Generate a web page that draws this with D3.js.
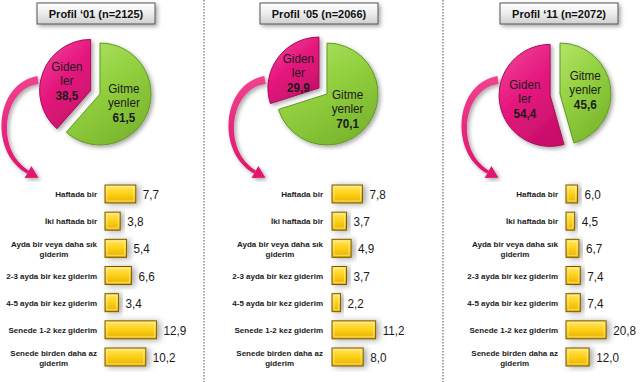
<!DOCTYPE html>
<html lang="tr">
<head>
<meta charset="UTF-8">
<title>Profil</title>
<script src="https://d3js.org/d3.v7.min.js"></script>
<style>
  body { margin: 0; background: #fff; }
  svg { font-family: "Liberation Sans", Arial, sans-serif; }
  .cat { font-size: 8px; font-weight: bold; fill: #1a1a1a; }
  .val { font-size: 13px; fill: #1a1a1a; }
  .pielbl { font-size: 13px; fill: #1a1a1a; }
  .title { font-size: 11px; font-weight: bold; fill: #111; }
</style>
</head>
<body>
<svg width="640" height="382"></svg>
<script>
// --- data ---
var profiles = ["Profil \u201801 (n=2125)", "Profil \u201805 (n=2066)", "Profil \u201811 (n=2072)"];
var gidenler = [38.5, 29.9, 54.4];
var gitmeyenler = [61.5, 70.1, 45.6];
var categories = [
    ["Haftada bir"],
    ["\u0130ki haftada bir"],
    ["Ayda bir veya daha s\u0131k", "giderim"],
    ["2-3 ayda bir kez giderim"],
    ["4-5 ayda bir kez giderim"],
    ["Senede 1-2 kez giderim"],
    ["Senede birden daha az", "giderim"]
];
var freq01 = [7.7, 3.8, 5.4, 6.6, 3.4, 12.9, 10.2];
var freq05 = [7.8, 3.7, 4.9, 3.7, 2.2, 11.2, 8.0];
var freq11 = [6.0, 4.5, 6.7, 7.4, 7.4, 20.8, 12.0];
var freqs = [freq01, freq05, freq11];

// layout per panel
var panels = [
    { titleCx: 96,  pieCx: 100, labelRight: 97,  barX0: 105, ppu: 4.0 },
    { titleCx: 319, pieCx: 327, labelRight: 323, barX0: 332, ppu: 3.9 },
    { titleCx: 559, pieCx: 560, labelRight: 558, barX0: 566, ppu: 1.93 }
];
var separators = [204, 443];
var pieCy = 94, radius = 51, explode = 10;
var squeeze = 0.9;

var svg = d3.select("svg");
var defs = svg.append("defs");

function shadow(id, dx, dy, sd, op) {
    var f = defs.append("filter").attr("id", id)
        .attr("x", "-30%").attr("y", "-30%").attr("width", "160%").attr("height", "160%");
    f.append("feDropShadow").attr("dx", dx).attr("dy", dy)
        .attr("stdDeviation", sd).attr("flood-color", "#000").attr("flood-opacity", op);
}
shadow("shd", 2, 2, 2, 0.35);
shadow("barshd", 3, 1, 3, 0.35);

function grad(id, stops, x2, y2) {
    var g = defs.append("linearGradient").attr("id", id)
        .attr("x1", 0).attr("y1", 0).attr("x2", x2).attr("y2", y2);
    stops.forEach(function(s) {
        g.append("stop").attr("offset", s[0]).attr("stop-color", s[1]);
    });
}
grad("pinkG", [[0, "#f24a9c"], [0.5, "#e6197f"], [1, "#c90f6a"]], 0.6, 1);
grad("greenG", [[0, "#b4e469"], [0.5, "#93d140"], [1, "#7bb72e"]], 0.6, 1);
grad("barG", [[0, "#ffe66b"], [0.45, "#ffd21a"], [1, "#e6b000"]], 0, 1);
grad("titleG", [[0, "#ffffff"], [0.5, "#ececec"], [1, "#cfcfcf"]], 0, 1);
grad("arrowG", [[0, "#f0428f"], [1, "#e0156f"]], 0, 1);

// separators
svg.selectAll(".sep").data(separators).enter().append("line")
    .attr("x1", function(d) { return d; }).attr("x2", function(d) { return d; })
    .attr("y1", 0).attr("y2", 382)
    .attr("stroke", "#8a8a8a").attr("stroke-width", 1.5)
    .attr("stroke-dasharray", "1.5,1.5");

var fmt = function(v) { return d3.format(".1f")(v).replace(".", ","); };

var y = d3.scalePoint().domain(d3.range(categories.length)).range([194, 357]);

var pie = d3.pie().sort(null).value(function(d) { return d.v; });
var arc = d3.arc().innerRadius(0).outerRadius(radius);

function sqText(g, x, y, txt, cls, weight) {
    return g.append("text").attr("class", cls)
        .attr("transform", "translate(" + x + "," + y + ") scale(" + squeeze + ",1)")
        .attr("text-anchor", "middle")
        .style("font-weight", weight || null)
        .text(txt);
}

// tapered curved arrow
function bez(p, t) {
    var u = 1 - t;
    return [
        u*u*u*p[0][0] + 3*u*u*t*p[1][0] + 3*u*t*t*p[2][0] + t*t*t*p[3][0],
        u*u*u*p[0][1] + 3*u*u*t*p[1][1] + 3*u*t*t*p[2][1] + t*t*t*p[3][1]
    ];
}
function bezD(p, t) {
    var u = 1 - t;
    return [
        3*u*u*(p[1][0]-p[0][0]) + 6*u*t*(p[2][0]-p[1][0]) + 3*t*t*(p[3][0]-p[2][0]),
        3*u*u*(p[1][1]-p[0][1]) + 6*u*t*(p[2][1]-p[1][1]) + 3*t*t*(p[3][1]-p[2][1])
    ];
}
function drawArrow(g, cx, cy) {
    var p = [[cx - 62, cy - 14], [cx - 102, cy - 8], [cx - 108, cy + 58], [cx - 72, cy + 78]];
    var left = [], right = [];
    var n = 40;
    for (var i = 0; i <= n; i++) {
        var t = i / n, b = bez(p, t), d = bezD(p, t);
        var len = Math.hypot(d[0], d[1]);
        var nx = -d[1] / len, ny = d[0] / len;
        var w = (8 - 4.5 * t) / 2;
        left.push([b[0] + nx * w, b[1] + ny * w]);
        right.push([b[0] - nx * w, b[1] - ny * w]);
    }
    var pts = left.concat(right.reverse());
    g.append("path").attr("d", d3.line()(pts) + "Z")
        .attr("fill", "url(#arrowG)").attr("filter", "url(#shd)");
    var e = bez(p, 1), d = bezD(p, 1), len = Math.hypot(d[0], d[1]);
    var ux = d[0] / len, uy = d[1] / len, nx = -uy, ny = ux;
    var head = [
        [e[0] + nx * 7, e[1] + ny * 7],
        [e[0] + ux * 12, e[1] + uy * 12],
        [e[0] - nx * 7, e[1] - ny * 7]
    ];
    g.append("path").attr("d", d3.line()(head) + "Z")
        .attr("fill", "#e0156f").attr("filter", "url(#shd)");
}

panels.forEach(function(pn, i) {
    var g = svg.append("g");

    // title box
    var tw = 118, th = 21;
    g.append("rect")
        .attr("x", pn.titleCx - tw / 2).attr("y", 3)
        .attr("width", tw).attr("height", th)
        .attr("fill", "url(#titleG)").attr("stroke", "#555").attr("stroke-width", 1)
        .attr("filter", "url(#shd)");
    g.append("text").attr("class", "title")
        .attr("x", pn.titleCx).attr("y", 17.5)
        .attr("text-anchor", "middle").text(profiles[i]);

    // arrow
    drawArrow(g, pn.pieCx, pieCy);

    // pie
    var slices = pie([
        { name: ["Gitme", "yenler"], v: gitmeyenler[i], fill: "url(#greenG)", stroke: "#5f9a1f", ex: 0 },
        { name: ["Giden", "ler"], v: gidenler[i], fill: "url(#pinkG)", stroke: "#a80b57", ex: explode }
    ]);
    var pg = g.append("g").attr("transform", "translate(" + pn.pieCx + "," + pieCy + ")");
    slices.forEach(function(s) {
        var mid = (s.startAngle + s.endAngle) / 2;
        var ox = Math.sin(mid) * s.data.ex, oy = -Math.cos(mid) * s.data.ex;
        var sg = pg.append("g").attr("transform", "translate(" + ox + "," + oy + ")");
        sg.append("path").attr("d", arc(s))
            .attr("fill", s.data.fill).attr("stroke", s.data.stroke).attr("stroke-width", 1)
            .attr("filter", "url(#shd)");
        var lr = radius * 0.5;
        var lx = Math.sin(mid) * lr, ly = -Math.cos(mid) * lr;
        sqText(sg, lx, ly - 10, s.data.name[0], "pielbl");
        sqText(sg, lx, ly + 4, s.data.name[1], "pielbl");
        sqText(sg, lx, ly + 19, fmt(s.data.v), "pielbl", "bold");
    });

    // bars
    var x = d3.scaleLinear().domain([0, 10]).range([pn.barX0, pn.barX0 + 10 * pn.ppu]);
    var bh = 18;
    var rows = g.selectAll(".row").data(freqs[i]).enter().append("g");
    rows.append("rect")
        .attr("x", x(0)).attr("y", function(d, j) { return y(j) - bh / 2; })
        .attr("width", function(d) { return x(d) - x(0); }).attr("height", bh)
        .attr("fill", "url(#barG)").attr("stroke", "#7a5a00").attr("stroke-width", 1)
        .attr("filter", "url(#barshd)");
    rows.append("rect")
        .attr("x", x(0) + 2).attr("y", function(d, j) { return y(j) - bh / 2 + 2; })
        .attr("width", function(d) { return Math.max(0, x(d) - x(0) - 4); }).attr("height", bh - 4)
        .attr("fill", "none").attr("stroke", "#fff3b0").attr("stroke-opacity", 0.6).attr("stroke-width", 1);
    rows.each(function(d, j) {
        d3.select(this).append("text").attr("class", "val")
            .attr("transform", "translate(" + (x(d) + 7) + "," + (y(j) + 5) + ") scale(" + squeeze + ",1)")
            .text(fmt(d));
    });

    // category labels
    categories.forEach(function(lines, j) {
        if (lines.length === 1) {
            g.append("text").attr("class", "cat")
                .attr("x", pn.labelRight).attr("y", y(j) + 3)
                .attr("text-anchor", "end").text(lines[0]);
        } else {
            var tg = g.append("g");
            var ts = lines.map(function(l, k) {
                return tg.append("text").attr("class", "cat")
                    .attr("y", y(j) - 1 + k * 9.5)
                    .attr("text-anchor", "middle").text(l);
            });
            var w = d3.max(ts, function(t) { return t.node().getComputedTextLength(); });
            ts.forEach(function(t) { t.attr("x", pn.labelRight - w / 2); });
        }
    });
});
</script>
</body>
</html>
